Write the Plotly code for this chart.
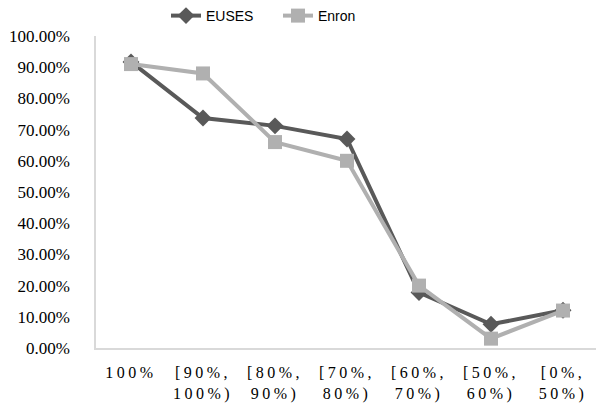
import plotly.graph_objects as go

categories = ["100%", "[90%,<br>100%)", "[80%,<br>90%)", "[70%,<br>80%)",
              "[60%,<br>70%)", "[50%,<br>60%)", "[0%,<br>50%)"]
euses = [0.917, 0.737, 0.712, 0.670, 0.178, 0.076, 0.121]
enron = [0.910, 0.880, 0.660, 0.600, 0.200, 0.030, 0.120]

x_idx = list(range(len(categories)))
SERIF = "Liberation Serif, Times New Roman, serif"

fig = go.Figure()
fig.add_trace(go.Scatter(
    x=x_idx, y=euses, name="EUSES", mode="lines+markers",
    line=dict(color="#595959", width=4),
    marker=dict(symbol="diamond", size=13, color="#595959"),
))
fig.add_trace(go.Scatter(
    x=x_idx, y=enron, name="Enron", mode="lines+markers",
    line=dict(color="#b0b0b0", width=4),
    marker=dict(symbol="square", size=14, color="#b0b0b0"),
))

fig.update_layout(
    width=596, height=404,
    margin=dict(l=96, r=0, t=36, b=56, autoexpand=False),
    paper_bgcolor="white", plot_bgcolor="white",
    showlegend=True,
    legend=dict(orientation="h", xref="container", x=166 / 596, xanchor="left",
                yref="container", y=1.0, yanchor="top",
                font=dict(family="Liberation Sans, Arial, sans-serif", size=14, color="#000000"),
                entrywidth=67, tracegroupgap=0),
    font=dict(family=SERIF, size=16, color="#000000"),
)
fig.update_xaxes(
    tickmode="array", tickvals=x_idx, ticktext=categories,
    range=[-0.486, 6.458], showgrid=False, zeroline=False, automargin=False,
    showline=True, linecolor="#d9d9d9", linewidth=1.5, ticks="",
    ticklabelstandoff=9,
    tickfont=dict(family=SERIF, size=16),
)
fig.update_yaxes(
    range=[0, 1], tickvals=[i / 10 for i in range(11)], tickformat=".2%",
    showgrid=False, zeroline=False, showline=True, linecolor="#d9d9d9",
    linewidth=1.5, ticks="", automargin=False, ticklabelstandoff=21,
    tickfont=dict(family=SERIF, size=17),
)

post = """
document.body.style.margin = '0';
document.body.style.overflow = 'hidden';
var gd = document.getElementsByClassName('plotly-graph-div')[0];
function sp(){
  var ts = gd.querySelectorAll('.xtick text');
  ts.forEach(function(t){ t.style.letterSpacing = '3.5px'; });
}
sp();
gd.on('plotly_afterplot', sp);
"""

fig.write_html("out.html", post_script=post, config={"displayModeBar": False})
